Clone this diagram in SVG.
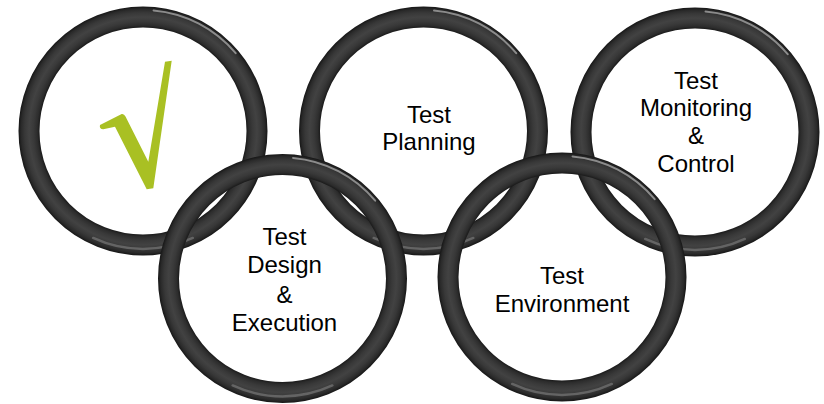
<svg xmlns="http://www.w3.org/2000/svg" width="824" height="404" viewBox="0 0 824 404">
<defs>
<radialGradient id="tube" gradientUnits="objectBoundingBox" cx="0.5" cy="0.5" r="0.546">
<stop offset="0.831" stop-color="#1a1a1a"/>
<stop offset="0.85" stop-color="#2c2c2c"/>
<stop offset="0.88" stop-color="#393939"/>
<stop offset="0.915" stop-color="#424242"/>
<stop offset="0.95" stop-color="#383838"/>
<stop offset="0.978" stop-color="#2a2a2a"/>
<stop offset="1" stop-color="#161616"/>
</radialGradient>
</defs>
<style>
.ring{fill:none;stroke:url(#tube);stroke-width:21}
.hl{fill:none;stroke:#d8d8d8;stroke-width:2;stroke-opacity:0.55;stroke-linecap:round}
.hl2{fill:none;stroke:#9a9a9a;stroke-width:2.5;stroke-opacity:0.45;stroke-linecap:round}
.lbl{font-family:"Liberation Sans",Arial,sans-serif;font-size:24px;fill:#000;text-anchor:middle}
</style>
<rect width="824" height="404" fill="#fff"/>
<g id="ring-check">
<circle class="ring" cx="143" cy="131" r="114"/>
<circle class="hl" cx="143" cy="131" r="121" pathLength="360" stroke-dasharray="45 315" stroke-dashoffset="85"/>
<circle class="hl2" cx="143" cy="131" r="118" pathLength="360" stroke-dasharray="50 310" stroke-dashoffset="-65"/>
<path d="M100,125 L121.7,114 Q124,113.5 125.5,116.5 L148.3,161.7 L165,61.7 L171.7,60.7 L153.3,188.3 L146.7,189.3 L115,126.7 L103.3,129.3 Q99,129 100,125 Z" fill="#a9c023"/>
</g>
<g id="ring-planning">
<circle class="ring" cx="423.5" cy="131" r="114"/>
<circle class="hl" cx="423.5" cy="131" r="121" pathLength="360" stroke-dasharray="45 315" stroke-dashoffset="85"/>
<circle class="hl2" cx="423.5" cy="131" r="118" pathLength="360" stroke-dasharray="50 310" stroke-dashoffset="-65"/>
<text class="lbl" x="429" y="122.5">Test</text>
<text class="lbl" x="429" y="150">Planning</text>
</g>
<g id="ring-monitoring">
<circle class="ring" cx="695" cy="132" r="114"/>
<circle class="hl" cx="695" cy="132" r="121" pathLength="360" stroke-dasharray="45 315" stroke-dashoffset="85"/>
<circle class="hl2" cx="695" cy="132" r="118" pathLength="360" stroke-dasharray="50 310" stroke-dashoffset="-65"/>
<text class="lbl" x="696" y="88.5">Test</text>
<text class="lbl" x="696" y="116">Monitoring</text>
<text class="lbl" x="696" y="143.5">&amp;</text>
<text class="lbl" x="696" y="172">Control</text>
</g>
<g id="ring-design">
<circle class="ring" cx="282.5" cy="278.5" r="114"/>
<circle class="hl" cx="282.5" cy="278.5" r="121" pathLength="360" stroke-dasharray="45 315" stroke-dashoffset="85"/>
<circle class="hl2" cx="282.5" cy="278.5" r="118" pathLength="360" stroke-dasharray="50 310" stroke-dashoffset="-65"/>
<text class="lbl" x="284.5" y="245">Test</text>
<text class="lbl" x="284.5" y="273">Design</text>
<text class="lbl" x="284.5" y="303">&amp;</text>
<text class="lbl" x="284.5" y="331">Execution</text>
</g>
<g id="ring-environment">
<circle class="ring" cx="562" cy="277" r="114"/>
<circle class="hl" cx="562" cy="277" r="121" pathLength="360" stroke-dasharray="45 315" stroke-dashoffset="85"/>
<circle class="hl2" cx="562" cy="277" r="118" pathLength="360" stroke-dasharray="50 310" stroke-dashoffset="-65"/>
<text class="lbl" x="562" y="284">Test</text>
<text class="lbl" x="562" y="312">Environment</text>
</g>
<g id="connectors"/>
</svg>
